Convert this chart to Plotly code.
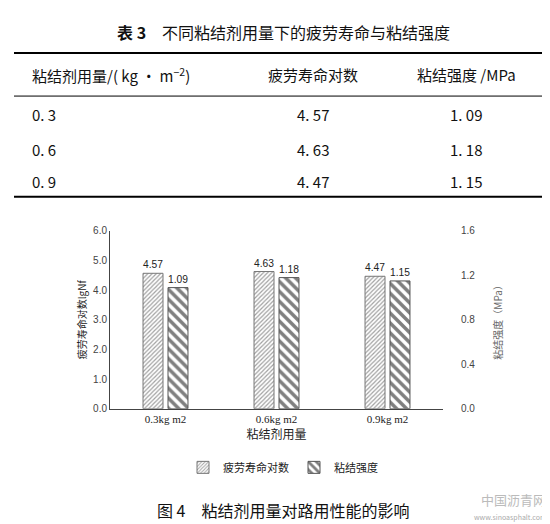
import plotly.graph_objects as go

categories = ["0.3kg m2", "0.6kg m2", "0.9kg m2"]
fatigue = [4.57, 4.63, 4.47]
strength = [1.09, 1.18, 1.15]
table_dose = ["0. 3", "0. 6", "0. 9"]
table_fatigue = ["4. 57", "4. 63", "4. 47"]
table_strength = ["1. 09", "1. 18", "1. 15"]

W, H = 550, 524
def py(y): return 1 - y / H
def px(x): return x / W

F = "Noto Sans CJK SC"
fig = go.Figure()
fig.add_trace(go.Bar(x=categories, y=fatigue, name="疲劳寿命对数", offsetgroup="a",
    text=[f"{v:.2f}" for v in fatigue], textposition="outside", cliponaxis=False,
    textfont=dict(size=11, color="#222", family="Liberation Sans"),
    marker=dict(color="white", line=dict(color="#777", width=1),
                pattern=dict(shape="/", fgcolor="#444", bgcolor="white", size=3, solidity=0.4))))
fig.add_trace(go.Bar(x=categories, y=strength, name="粘结强度", offsetgroup="b", yaxis="y2",
    text=[f"{v:.2f}" for v in strength], textposition="outside", cliponaxis=False,
    textfont=dict(size=11, color="#222", family="Liberation Sans"),
    marker=dict(color="white", line=dict(color="#555", width=1),
                pattern=dict(shape="\\", fgcolor="black", bgcolor="white", size=7, solidity=0.5))))

fig.update_layout(
    width=W, height=H, margin=dict(l=0, r=0, t=0, b=0), paper_bgcolor="white", plot_bgcolor="white",
    barmode="group", bargap=0.55, bargroupgap=0.2, showlegend=True,
    font=dict(family=F, color="#222"),
    legend=dict(orientation="h", x=0.5, xanchor="center", y=py(464), yanchor="middle",
                font=dict(size=11), itemwidth=30),
    xaxis=dict(domain=[px(102), px(435)], showline=True, linecolor="#444", ticks="",
               tickfont=dict(size=11, family="Liberation Serif"),
               title=dict(text="粘结剂用量", font=dict(size=12), standoff=2), anchor="y"),
    yaxis=dict(domain=[py(404), py(222)], range=[0, 6], dtick=1, tickformat=".1f",
               showline=True, linecolor="#444", showgrid=False, zeroline=False,
               tickfont=dict(size=10, family="Liberation Sans", color="#444"),
               title=dict(text="疲劳寿命对数lgNf", font=dict(size=10), standoff=4)),
    yaxis2=dict(overlaying="y", side="right", range=[0, 1.6], dtick=0.4, tickformat=".1f",
                showgrid=False, zeroline=False, anchor="free", position=px(452),
                tickfont=dict(size=10, family="Liberation Sans", color="#444"),
                title=dict(text="粘结强度（MPa）", font=dict(size=10, color="#666"), standoff=20)),
)

ann = []
def t(x, y, s, size=13, anchor="left", color="#111"):
    ann.append(dict(x=px(x), y=py(y), xref="paper", yref="paper", text=s, showarrow=False,
                    xanchor=anchor, yanchor="middle", font=dict(size=size, color=color)))
t(275, 18, "<b>表 3</b>　不同粘结剂用量下的疲劳寿命与粘结强度", 16, "center")
t(22, 62, "粘结剂用量/( kg · m<sup>−2</sup>)", 15)
t(305, 62, "疲劳寿命对数", 15, "center")
t(458, 62, "粘结强度 /MPa", 15, "center")
for i, yy in enumerate([103, 139, 171]):
    t(22, yy, table_dose[i], 15)
    t(305, yy, table_fatigue[i], 15, "center")
    t(458, yy, table_strength[i], 15, "center")
t(275, 508, "图 4　粘结剂用量对路用性能的影响", 16, "center")
t(540, 515, "www.sinoasphalt.com", 7, "right", "#aaa")
t(540, 497, "中国沥青网", 13, "right", "#bbb")
fig.update_layout(annotations=ann, shapes=[
    dict(type="line", xref="paper", yref="paper", x0=px(6), x1=px(544), y0=py(y), y1=py(y),
         line=dict(color="black", width=w)) for y, w in [(40, 2), (84, 1), (187, 2)]])
fig.write_html("out.html")
